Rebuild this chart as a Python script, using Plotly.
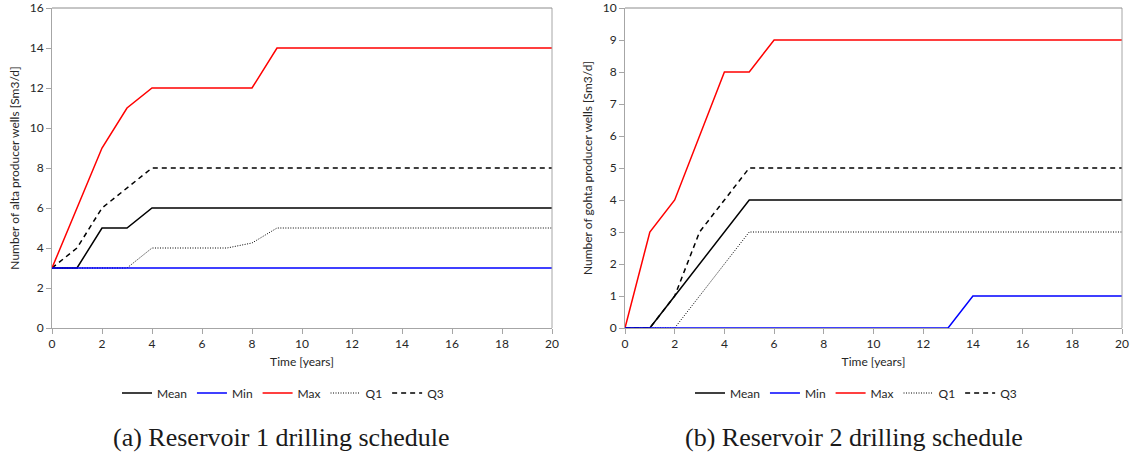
import plotly.graph_objects as go

years = list(range(0, 21))

# Reservoir 1 (alta)
r1_mean = [3, 3, 5, 5, 6, 6, 6, 6, 6, 6, 6, 6, 6, 6, 6, 6, 6, 6, 6, 6, 6]
r1_min = [3] * 21
r1_max = [3, 6, 9, 11, 12, 12, 12, 12, 12, 14, 14, 14, 14, 14, 14, 14, 14, 14, 14, 14, 14]
r1_q1 = [3, 3, 3, 3, 4, 4, 4, 4, 4.25, 5, 5, 5, 5, 5, 5, 5, 5, 5, 5, 5, 5]
r1_q3 = [3, 4, 6, 7, 8, 8, 8, 8, 8, 8, 8, 8, 8, 8, 8, 8, 8, 8, 8, 8, 8]

# Reservoir 2 (gohta)
r2_mean = [0, 0, 1, 2, 3, 4, 4, 4, 4, 4, 4, 4, 4, 4, 4, 4, 4, 4, 4, 4, 4]
r2_min = [0, 0, 0, 0, 0, 0, 0, 0, 0, 0, 0, 0, 0, 0, 1, 1, 1, 1, 1, 1, 1]
r2_max = [0, 3, 4, 6, 8, 8, 9, 9, 9, 9, 9, 9, 9, 9, 9, 9, 9, 9, 9, 9, 9]
r2_q1 = [0, 0, 0, 1, 2, 3, 3, 3, 3, 3, 3, 3, 3, 3, 3, 3, 3, 3, 3, 3, 3]
r2_q3 = [0, 0, 1, 3, 4, 5, 5, 5, 5, 5, 5, 5, 5, 5, 5, 5, 5, 5, 5, 5, 5]

names = ["Mean", "Min", "Max", "Q1", "Q3"]
styles = [
    dict(color="#000000", width=1.5, dash="solid"),
    dict(color="#0000FF", width=1.5, dash="solid"),
    dict(color="#FF0000", width=1.5, dash="solid"),
    dict(color="#000000", width=1, dash="1px,1.5px"),
    dict(color="#000000", width=1.5, dash="5px,4px"),
]

W, H = 1135, 459
fig = go.Figure()

order = [3, 4, 0, 2, 1]
for panel, series, xa, ya, lg in [
    (1, [r1_mean, r1_min, r1_max, r1_q1, r1_q3], "x", "y", "legend"),
    (2, [r2_mean, r2_min, r2_max, r2_q1, r2_q3], "x2", "y2", "legend2"),
]:
    for i in order:
        fig.add_trace(go.Scatter(
            x=years, y=series[i], mode="lines", name=names[i],
            line=styles[i], xaxis=xa, yaxis=ya, legend=lg,
            legendrank=i + 1,
        ))

def px_x(p):
    return p / W

def px_y(p):
    return 1 - p / H

axis_font = dict(family="Lato, Open Sans, sans-serif", size=12, color="#262626")
legend_font = dict(family="Lato, Open Sans, sans-serif", size=12, color="#262626")
common_x = dict(
    range=[0, 20], dtick=2, tick0=0, showgrid=False, zeroline=False,
    showline=True, linecolor="#a6a6a6", linewidth=1,
    ticks="outside", ticklen=5, tickcolor="#a6a6a6",
    tickfont=axis_font, title_font=axis_font, title_standoff=7,
    automargin=False,
)
common_y = dict(
    showgrid=False, zeroline=False,
    showline=True, linecolor="#a6a6a6", linewidth=1,
    ticks="outside", ticklen=5, tickcolor="#a6a6a6",
    tickfont=axis_font, title_font=axis_font, title_standoff=7,
    automargin=False,
)

border = "#8c8c8c"
fig.update_layout(
    width=W, height=H,
    margin=dict(l=0, r=0, t=0, b=0, autoexpand=False),
    paper_bgcolor="white", plot_bgcolor="white",
    font=axis_font,
    xaxis=dict(common_x, domain=[px_x(52), px_x(552)], anchor="y",
               title_text="Time [years]"),
    yaxis=dict(common_y, domain=[px_y(328), px_y(8)], anchor="x",
               range=[0, 16], dtick=2,
               title_text="Number of alta producer wells [Sm3/d]"),
    xaxis2=dict(common_x, domain=[px_x(625), px_x(1122)], anchor="y2",
                title_text="Time [years]"),
    yaxis2=dict(common_y, domain=[px_y(328), px_y(8)], anchor="x2",
                range=[0, 10], dtick=1,
                title_text="Number of gohta producer wells [Sm3/d]"),
    legend=dict(orientation="h", x=px_x(283), xanchor="center",
                y=px_y(393), yanchor="middle", font=legend_font,
                itemwidth=30, tracegroupgap=0, bgcolor="rgba(0,0,0,0)"),
    legend2=dict(orientation="h", x=px_x(856), xanchor="center",
                 y=px_y(393), yanchor="middle", font=legend_font,
                 itemwidth=30, tracegroupgap=0, bgcolor="rgba(0,0,0,0)"),
    shapes=[
        dict(type="line", xref="x domain", yref="y domain", x0=1, x1=1, y0=0, y1=1,
             line=dict(color="#a6a6a6", width=1)),
        dict(type="line", xref="x2 domain", yref="y2 domain", x0=1, x1=1, y0=0, y1=1,
             line=dict(color="#a6a6a6", width=1)),
        dict(type="line", xref="x domain", yref="y domain", x0=0, x1=1, y0=1, y1=1,
             line=dict(color=border, width=1)),
        dict(type="line", xref="x2 domain", yref="y2 domain", x0=0, x1=1, y0=1, y1=1,
             line=dict(color=border, width=1)),
    ],
    annotations=[
        dict(text="(a) Reservoir 1 drilling schedule", xref="paper", yref="paper",
             x=px_x(281), y=px_y(437), xanchor="center", yanchor="middle",
             showarrow=False,
             font=dict(family="Liberation Serif, serif", size=26, color="#1a1a1a")),
        dict(text="(b) Reservoir 2 drilling schedule", xref="paper", yref="paper",
             x=px_x(854), y=px_y(437), xanchor="center", yanchor="middle",
             showarrow=False,
             font=dict(family="Liberation Serif, serif", size=26, color="#1a1a1a")),
    ],
)

fig.write_html("out.html")
